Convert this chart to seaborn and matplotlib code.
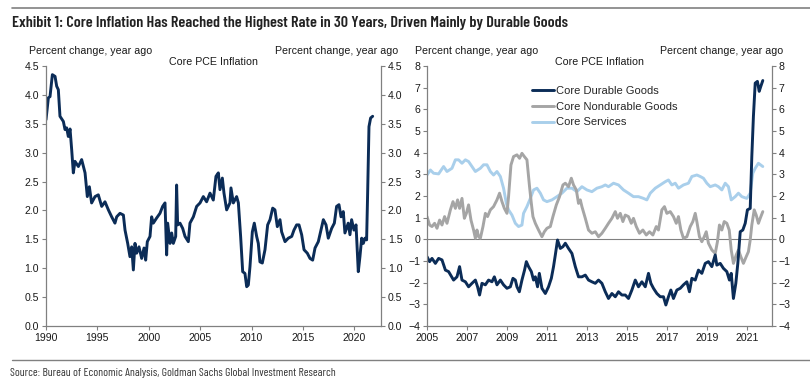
import matplotlib
matplotlib.use("Agg")
import matplotlib.pyplot as plt
import seaborn as sns
import pandas as pd
from matplotlib.lines import Line2D
from matplotlib.ticker import FormatStrFormatter

# ---------------- data ----------------
pce_years = [1990.00, 1990.23, 1990.39, 1990.62, 1990.88, 1991.04, 1991.20, 1991.36, 1991.69, 1991.85,
             1992.01, 1992.17, 1992.34, 1992.50, 1992.66, 1992.82, 1993.15, 1993.47, 1993.80, 1994.02,
             1994.22, 1994.44, 1994.77, 1995.09, 1995.42, 1995.74, 1996.07, 1996.39, 1996.71, 1996.88,
             1997.20, 1997.53, 1997.69, 1997.95, 1998.17, 1998.34, 1998.50, 1998.66, 1998.82, 1999.05,
             1999.31, 1999.54, 1999.70, 1999.86, 2000.12, 2000.28, 2000.44, 2000.77, 2001.09, 2001.35,
             2001.58, 2001.74, 2001.84, 2002.07, 2002.23, 2002.39, 2002.62, 2002.71, 2002.81, 2003.04,
             2003.30, 2003.53, 2003.85, 2004.01, 2004.34, 2004.66, 2004.99, 2005.31, 2005.63, 2005.96,
             2006.28, 2006.54, 2006.77, 2006.93, 2007.16, 2007.32, 2007.58, 2007.90, 2008.00, 2008.23,
             2008.55, 2008.72, 2008.94, 2009.14, 2009.36, 2009.53, 2009.69, 2009.85, 2010.08, 2010.27,
             2010.50, 2010.66, 2010.82, 2011.05, 2011.31, 2011.57, 2011.80, 2012.06, 2012.28, 2012.51,
             2012.77, 2012.93, 2013.26, 2013.58, 2013.91, 2014.13, 2014.39, 2014.62, 2014.88, 2015.11,
             2015.43, 2015.69, 2015.95, 2016.18, 2016.50, 2016.76, 2016.99, 2017.25, 2017.47, 2017.80,
             2018.06, 2018.28, 2018.51, 2018.71, 2018.93, 2019.09, 2019.41, 2019.58, 2019.74, 2019.97,
             2020.17, 2020.39, 2020.55, 2020.72, 2020.88, 2021.04, 2021.20, 2021.30, 2021.43, 2021.59,
             2021.79]
core_pce = [3.57, 3.95, 3.97, 4.35, 4.32, 4.15, 4.09, 3.63, 3.54, 3.40,
            3.43, 3.28, 3.41, 3.05, 2.65, 2.85, 2.76, 2.88, 2.65, 2.24,
            2.41, 2.13, 2.24, 2.27, 2.07, 2.15, 2.01, 1.89, 1.78, 1.89,
            1.95, 1.92, 1.66, 1.43, 1.20, 1.37, 0.97, 1.43, 1.26, 1.37,
            1.17, 1.35, 1.14, 1.46, 1.55, 1.89, 1.78, 1.87, 1.95, 2.07,
            2.13, 1.23, 1.78, 1.43, 1.61, 1.43, 1.55, 2.44, 1.75, 1.78,
            1.69, 1.55, 1.46, 1.78, 1.89, 2.07, 2.13, 2.24, 2.15, 2.30,
            2.18, 2.59, 2.65, 2.36, 2.56, 2.30, 2.01, 2.13, 2.39, 2.13,
            2.24, 2.13, 1.55, 0.94, 0.91, 0.68, 0.71, 1.03, 1.63, 1.78,
            1.55, 1.43, 1.11, 1.09, 1.32, 1.75, 1.84, 2.04, 2.01, 1.72,
            1.84, 1.63, 1.46, 1.52, 1.55, 1.66, 1.75, 1.75, 1.58, 1.32,
            1.26, 1.17, 1.14, 1.35, 1.46, 1.66, 1.84, 1.75, 1.52, 1.69,
            1.78, 2.07, 2.10, 1.89, 1.98, 1.61, 1.78, 1.58, 1.84, 1.66,
            1.75, 0.94, 1.20, 1.52, 1.43, 1.52, 1.49, 2.30, 3.45, 3.60,
            3.63]

dur_years = [2005.00, 2005.13, 2005.25, 2005.42, 2005.58, 2005.75, 2005.92, 2006.08, 2006.33, 2006.50,
             2006.63, 2006.75, 2006.92, 2007.08, 2007.25, 2007.42, 2007.53, 2007.63, 2007.75, 2007.92,
             2008.08, 2008.25, 2008.37, 2008.50, 2008.67, 2008.83, 2009.00, 2009.17, 2009.30, 2009.42,
             2009.50, 2009.62, 2009.75, 2009.88, 2009.97, 2010.08, 2010.22, 2010.33, 2010.42, 2010.53,
             2010.62, 2010.75, 2010.92, 2011.08, 2011.22, 2011.33, 2011.42, 2011.53, 2011.67, 2011.80,
             2011.92, 2012.08, 2012.25, 2012.42, 2012.58, 2012.75, 2012.92, 2013.08, 2013.25, 2013.42,
             2013.58, 2013.75, 2013.92, 2014.08, 2014.25, 2014.42, 2014.58, 2014.75, 2014.92, 2015.08,
             2015.25, 2015.42, 2015.58, 2015.75, 2015.92, 2016.08, 2016.20, 2016.33, 2016.50, 2016.67,
             2016.83, 2016.95, 2017.08, 2017.20, 2017.33, 2017.50, 2017.67, 2017.83, 2018.00, 2018.13,
             2018.25, 2018.42, 2018.58, 2018.75, 2018.92, 2019.08, 2019.25, 2019.42, 2019.50, 2019.67,
             2019.83, 2020.00, 2020.13, 2020.22, 2020.33, 2020.45, 2020.55, 2020.67, 2020.80, 2020.92,
             2021.03, 2021.17, 2021.25, 2021.33, 2021.42, 2021.53, 2021.62, 2021.70, 2021.80]
durable = [-0.80, -1.03, -0.88, -1.11, -0.88, -0.95, -1.42, -1.49, -1.88, -1.73,
           -1.26, -1.88, -1.96, -2.19, -2.03, -1.88, -2.19, -2.57, -2.03, -2.10,
           -1.88, -1.96, -1.73, -2.10, -1.88, -2.10, -2.26, -2.19, -1.80, -1.88,
           -2.19, -2.42, -1.88, -1.42, -1.03, -1.26, -1.49, -1.88, -1.73, -2.19,
           -1.57, -2.26, -2.50, -2.19, -1.80, -1.26, -0.72, -0.03, -0.42, -0.34,
           -0.18, -0.42, -0.65, -1.26, -1.73, -1.73, -1.65, -1.88, -1.96, -2.03,
           -1.88, -2.03, -2.42, -2.73, -2.50, -2.65, -2.42, -2.57, -2.57, -2.73,
           -2.34, -1.88, -2.19, -1.96, -2.19, -1.57, -2.03, -2.26, -2.50, -2.65,
           -2.65, -3.03, -2.65, -2.34, -2.73, -2.34, -2.26, -2.10, -1.96, -2.42,
           -1.80, -1.88, -1.42, -1.57, -1.11, -1.03, -1.26, -0.72, -1.19, -1.11,
           -1.34, -1.49, -1.88, -1.57, -2.73, -2.03, -1.11, 0.35, 0.43, 0.74,
           1.36, 1.43, 3.82, 5.67, 7.21, 7.29, 6.83, 7.06, 7.33]

nondur_years = [2005.00, 2005.13, 2005.25, 2005.38, 2005.50, 2005.63, 2005.75, 2005.88, 2006.00, 2006.17,
                2006.30, 2006.42, 2006.53, 2006.63, 2006.75, 2006.87, 2006.97, 2007.08, 2007.20, 2007.33,
                2007.42, 2007.50, 2007.58, 2007.67, 2007.80, 2007.92, 2008.03, 2008.17, 2008.33, 2008.50,
                2008.63, 2008.75, 2008.87, 2009.00, 2009.08, 2009.20, 2009.33, 2009.50, 2009.63, 2009.75,
                2009.87, 2010.00, 2010.13, 2010.22, 2010.30, 2010.42, 2010.58, 2010.75, 2010.87, 2011.00,
                2011.17, 2011.30, 2011.47, 2011.63, 2011.80, 2011.92, 2012.08, 2012.22, 2012.33, 2012.47,
                2012.58, 2012.67, 2012.75, 2012.92, 2013.08, 2013.25, 2013.42, 2013.58, 2013.75, 2013.92,
                2014.08, 2014.25, 2014.42, 2014.53, 2014.67, 2014.80, 2014.92, 2015.08, 2015.22, 2015.33,
                2015.47, 2015.63, 2015.80, 2015.97, 2016.13, 2016.30, 2016.47, 2016.58, 2016.75, 2016.88,
                2017.00, 2017.17, 2017.33, 2017.47, 2017.58, 2017.70, 2017.83, 2018.00, 2018.17, 2018.30,
                2018.42, 2018.50, 2018.63, 2018.75, 2018.87, 2018.97, 2019.08, 2019.25, 2019.42, 2019.53,
                2019.63, 2019.75, 2019.87, 2020.00, 2020.12, 2020.22, 2020.33, 2020.47, 2020.58, 2020.70,
                2020.83, 2020.97, 2021.08, 2021.17, 2021.25, 2021.37, 2021.47, 2021.58, 2021.67, 2021.80]
nondurable = [1.05, 0.66, 0.59, 0.74, 0.51, 0.89, 0.66, 1.05, 0.74, 1.36,
              1.74, 1.43, 1.82, 1.43, 1.89, 0.97, 1.20, 1.59, 0.89, 0.43,
              0.05, 0.43, 0.12, 0.05, 0.59, 1.20, 1.05, 1.36, 1.51, 1.82,
              2.13, 1.74, 1.43, 1.20, 1.97, 3.43, 3.82, 3.90, 3.74, 3.97,
              3.82, 3.67, 2.43, 1.66, 1.05, 0.74, 0.43, 0.12, 0.35, 0.51,
              0.59, 1.05, 1.59, 1.97, 2.51, 2.59, 2.43, 2.82, 2.51, 2.28,
              1.66, 1.82, 1.51, 0.97, 0.43, 0.28, 0.35, 0.12, 0.28, 0.51,
              0.74, 0.97, 1.28, 0.97, 1.20, 0.82, 1.12, 1.05, 0.74, 0.97,
              0.59, 0.28, 0.43, 0.20, 0.35, 0.20, 0.59, 0.43, 1.36, 1.51,
              1.20, 1.28, 1.05, 0.74, 1.05, 0.43, 0.05, 0.12, 0.59, 0.82,
              1.20, 0.82, 0.12, -0.11, 0.12, 0.35, -0.18, -0.49, -0.65, -0.11,
              0.66, 0.43, 0.82, 0.74, 0.43, -0.49, -1.11, -0.72, -0.49, -0.80,
              -1.11, -0.80, -0.57, -0.03, 0.66, 1.36, 1.12, 0.74, 0.97, 1.28]

serv_years = [2005.00, 2005.17, 2005.33, 2005.58, 2005.83, 2006.00, 2006.25, 2006.42, 2006.58, 2006.75,
              2006.92, 2007.08, 2007.25, 2007.42, 2007.67, 2007.83, 2008.00, 2008.17, 2008.33, 2008.50,
              2008.67, 2008.83, 2008.97, 2009.08, 2009.25, 2009.42, 2009.58, 2009.75, 2009.83, 2010.00,
              2010.17, 2010.33, 2010.50, 2010.67, 2010.83, 2011.00, 2011.25, 2011.50, 2011.75, 2012.00,
              2012.25, 2012.50, 2012.75, 2013.00, 2013.25, 2013.50, 2013.75, 2013.92, 2014.08, 2014.33,
              2014.58, 2014.83, 2015.08, 2015.33, 2015.58, 2015.83, 2016.00, 2016.17, 2016.42, 2016.67,
              2016.92, 2017.08, 2017.25, 2017.42, 2017.58, 2017.83, 2018.08, 2018.25, 2018.50, 2018.67,
              2018.83, 2019.00, 2019.17, 2019.42, 2019.58, 2019.75, 2019.92, 2020.08, 2020.22, 2020.42,
              2020.58, 2020.75, 2021.00, 2021.17, 2021.30, 2021.42, 2021.58, 2021.80]
services = [2.97, 3.20, 3.05, 3.02, 3.36, 3.13, 3.28, 3.67, 3.67, 3.51,
            3.67, 3.59, 3.36, 3.13, 3.28, 3.44, 3.44, 3.13, 2.97, 3.13,
            2.90, 2.36, 1.66, 1.36, 1.12, 0.74, 0.59, 0.66, 1.20, 1.51,
            1.89, 2.28, 2.36, 2.13, 1.82, 1.74, 1.82, 1.97, 2.13, 2.36,
            2.36, 2.20, 2.43, 2.28, 2.20, 2.36, 2.43, 2.51, 2.43, 2.59,
            2.51, 2.28, 2.13, 1.97, 1.97, 1.89, 1.82, 2.13, 2.36, 2.51,
            2.66, 2.74, 2.51, 2.59, 2.36, 2.51, 2.59, 2.90, 2.97, 2.90,
            2.82, 2.59, 2.43, 2.51, 2.43, 2.28, 2.59, 2.43, 1.82, 1.97,
            2.13, 1.97, 1.89, 2.13, 3.05, 3.28, 3.51, 3.36]

left_xticks = [1990, 1995, 2000, 2005, 2010, 2015, 2020]
left_yticks = [0.0, 0.5, 1.0, 1.5, 2.0, 2.5, 3.0, 3.5, 4.0, 4.5]
right_xticks = [2005, 2007, 2009, 2011, 2013, 2015, 2017, 2019, 2021]
right_yticks = [-4, -3, -2, -1, 0, 1, 2, 3, 4, 5, 6, 7, 8]

series_names = ["Core Durable Goods", "Core Nondurable Goods", "Core Services"]
title_text = "Exhibit 1: Core Inflation Has Reached the Highest Rate in 30 Years, Driven Mainly by Durable Goods"
unit_text = "Percent change, year ago"
panel_title = "Core PCE Inflation"
source_text = "Source: Bureau of Economic Analysis, Goldman Sachs Global Investment Research"

# ---------------- style ----------------
NAVY = "#0b2c57"
GRAY = "#a5a5a5"
LIGHT = "#a9cfeb"
SPINE = "#808080"

sns.set_theme(style="white")
plt.rcParams["font.family"] = ["Liberation Sans", "DejaVu Sans"]
NARROW = ["Barlow Condensed", "Archivo Narrow", "Liberation Sans", "DejaVu Sans"]

W, H = 810, 389
fig = plt.figure(figsize=(W / 100, H / 100), dpi=100)
ax1 = fig.add_axes([46 / W, 1 - 326 / H, 335 / W, 260 / H])
ax2 = fig.add_axes([427 / W, 1 - 326 / H, 345 / W, 260 / H])

LW = 2.1

# left panel
df_pce = pd.DataFrame({"year": pce_years, "value": core_pce})
sns.lineplot(data=df_pce, x="year", y="value", ax=ax1, color=NAVY, lw=LW,
             sort=False, estimator=None)

# right panel
df_s = pd.DataFrame({"year": serv_years, "value": services})
df_n = pd.DataFrame({"year": nondur_years, "value": nondurable})
df_d = pd.DataFrame({"year": dur_years, "value": durable})
ax2.axhline(0, color=SPINE, lw=0.8, zorder=1)
sns.lineplot(data=df_s, x="year", y="value", ax=ax2, color=LIGHT, lw=LW,
             sort=False, estimator=None, label=series_names[2])
sns.lineplot(data=df_n, x="year", y="value", ax=ax2, color=GRAY, lw=LW,
             sort=False, estimator=None, label=series_names[1])
sns.lineplot(data=df_d, x="year", y="value", ax=ax2, color=NAVY, lw=LW,
             sort=False, estimator=None, label=series_names[0])

ax1.set_xlim(1990, 2022.6)
ax1.set_ylim(0, 4.5)
ax1.set_xticks(left_xticks)
ax1.set_yticks(left_yticks)
ax1.yaxis.set_major_formatter(FormatStrFormatter("%.1f"))

ax2.set_xlim(2005, 2022.26)
ax2.set_ylim(-4, 8)
ax2.set_xticks(right_xticks)
ax2.set_yticks(right_yticks)

for ax in (ax1, ax2):
    ax.set_xlabel("")
    ax.set_ylabel("")
    ax.set_facecolor("white")
    ax.spines["top"].set_visible(False)
    for s in ("left", "right", "bottom"):
        ax.spines[s].set_visible(True)
        ax.spines[s].set_color(SPINE)
        ax.spines[s].set_linewidth(0.9)
    ax.tick_params(axis="both", which="major", direction="out", length=3, width=0.8,
                   color=SPINE, labelsize=7.6, labelcolor="#1a1a1a", pad=2,
                   left=True, right=True, bottom=True, labelleft=True, labelright=True)
    ax.text(0.5, 1 + 4 / 260, panel_title, transform=ax.transAxes, ha="center",
            va="center", fontsize=7.7, color="#1a1a1a")

# legend
h, l = ax2.get_legend_handles_labels()
order = [l.index(n) for n in series_names]
ax2.legend([h[i] for i in order], [l[i] for i in order], loc="upper left",
           bbox_to_anchor=(0.305, 0.922), frameon=False, fontsize=8,
           handlelength=2.0, handletextpad=0.15, labelspacing=0.5,
           borderaxespad=0, borderpad=0)

# unit labels
uy = 1 - 51 / H
fig.text(29 / W, uy, unit_text, ha="left", va="center", fontsize=7.7, color="#1a1a1a")
fig.text(398 / W, uy, unit_text, ha="right", va="center", fontsize=7.7, color="#1a1a1a")
fig.text(415 / W, uy, unit_text, ha="left", va="center", fontsize=7.7, color="#1a1a1a")
fig.text(783 / W, uy, unit_text, ha="right", va="center", fontsize=7.7, color="#1a1a1a")

# title, source, rules
fig.text(12 / W, 1 - 23 / H, title_text, ha="left", va="center", fontsize=11.6,
         fontweight="semibold", family=NARROW, color="#222222")
fig.text(10 / W, 1 - 373 / H, source_text, ha="left", va="center", fontsize=8.4,
         family=NARROW, color="#333333")
fig.add_artist(Line2D([12 / W, 1.0], [1 - 8 / H] * 2, color=SPINE, lw=1.2,
                      transform=fig.transFigure))
fig.add_artist(Line2D([12 / W, 1.0], [1 - 360 / H] * 2, color=SPINE, lw=1.0,
                      transform=fig.transFigure))

fig.savefig("out.png", dpi=100, facecolor="white")
